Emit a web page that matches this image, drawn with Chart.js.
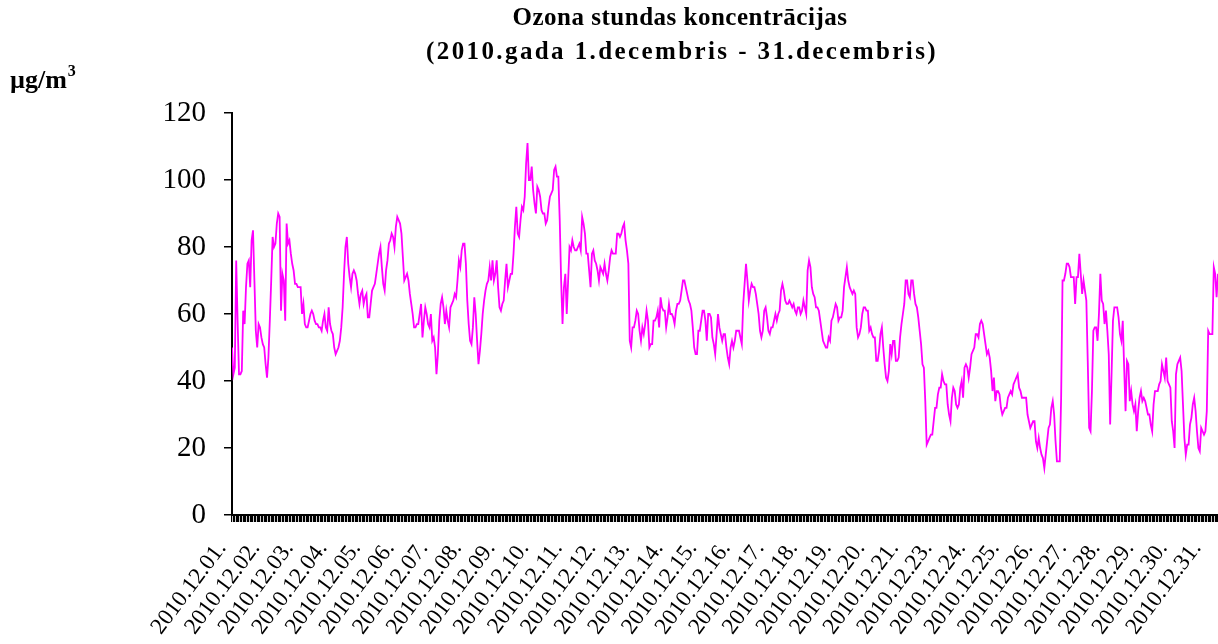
<!DOCTYPE html>
<html>
<head>
<meta charset="utf-8">
<script src="https://cdn.jsdelivr.net/npm/chart.js@4.4.1/dist/chart.umd.min.js"></script>
<style>
  html, body { margin: 0; padding: 0; background: #fff; overflow: hidden; }
  #wrap { width: 1218px; height: 644px; position: relative; }
</style>
</head>
<body>
<div id="wrap"><canvas id="ozone"></canvas></div>
<script>
// hourly O3 values, one array per day
var d01 = [50,42,44,76,58,42,42,43,61,57,68,75,76,68,82,85,70,55,50,57,56,53,51,50];
var d02 = [45,41,47,58,70,83,80,81,87,90,89,61,72,70,58,87,81,82,78,75,73,69,69,68];
var d03 = [68,68,60,63,57,56,56,58,60,61,60,58,57,57,56,56,55,58,60,56,55,62,57,55];
var d04 = [54,50,48,49,50,52,56,62,72,80,83,75,71,68,72,73,72,70,66,63,66,67,63,65];
var d05 = [66,59,59,63,67,68,69,72,75,78,80,74,69,67,73,76,81,82,84,83,80,86,89,88];
var d06 = [87,84,77,70,71,72,70,66,63,60,56,56,57,57,60,63,53,58,62,60,57,56,60,52];
var d07 = [53,50,42,48,58,63,65,62,57,61,58,56,62,63,64,66,65,70,76,74,79,81,81,75];
var d08 = [64,57,52,51,56,65,60,52,45,49,54,60,64,67,69,70,74,70,76,70,72,76,68,62];
var d09 = [61,63,64,70,75,68,70,72,72,78,86,92,84,83,88,92,91,95,105,111,100,100,104,97];
var d10 = [93,90,98,97,95,91,90,90,87,88,92,95,96,97,103,104,101,101,88,70,57,68,72,60];
var d11 = [70,80,79,82,80,79,79,80,81,79,89,87,84,78,78,73,68,78,79,76,75,73,70,74];
var d12 = [73,72,75,72,70,73,77,79,78,78,78,84,84,83,84,86,87,82,79,75,52,50,56,56];
var d13 = [58,61,60,55,52,56,54,57,61,58,50,51,51,58,58,59,61,56,65,62,61,61,56,59];
var d14 = [63,60,60,59,57,61,63,63,64,67,70,70,68,66,64,63,61,56,50,48,48,55,55,58];
var d15 = [61,61,58,52,60,60,59,53,51,48,54,60,56,54,52,54,54,50,47,45,50,52,50,52];
var d16 = [55,55,55,53,51,63,69,75,70,64,67,69,68,68,66,63,60,55,53,55,61,62,59,55];
var d17 = [54,56,56,58,60,58,60,61,67,69,67,64,63,63,64,63,62,63,61,60,62,62,60,61];
var d18 = [64,62,60,73,76,74,68,66,65,62,62,61,58,55,52,51,50,50,53,52,58,59,61,63];
var d19 = [62,58,59,59,61,68,71,74,70,68,67,66,67,66,56,53,54,56,60,62,62,61,61,55];
var d20 = [56,54,53,53,46,46,49,54,56,50,45,41,40,43,51,48,52,52,46,46,47,53,57,60];
var d21 = [63,70,70,66,65,70,70,66,63,62,59,55,51,45,44,34,21,22,23,24,24,28,32,32];
var d23 = [36,38,38,42,40,39,39,33,30,28,35,38,37,33,32,33,38,40,35,44,45,44,41,44];
var d24 = [48,49,50,54,54,53,57,58,57,54,51,48,49,47,43,37,41,34,37,37,36,32,30,31];
var d25 = [32,32,35,36,37,36,39,40,41,42,38,37,35,35,35,35,30,28,26,27,28,28,22,20];
var d26 = [23,20,18,17,14,18,22,26,27,32,34,30,22,16,16,16,35,70,70,72,75,75,74,71];
var d27 = [71,71,63,71,71,78,72,66,70,67,64,46,26,25,37,55,56,56,52,60,72,64,63,57];
var d28 = [61,55,48,27,42,58,62,62,62,59,54,52,58,44,31,46,45,34,37,33,31,33,25,31];
var d29 = [35,37,34,35,34,32,30,30,27,25,33,37,37,37,39,40,45,43,41,47,40,39,38,28];
var d30 = [25,20,42,45,46,47,43,33,23,18,21,21,27,29,33,35,31,25,20,19,26,25,24,25];
var d31 = [31,55,54,54,54,74,72,65,72]; // rest of the day is cut off in the picture

// day labels as printed (12.22 is not on the axis)
var dayLabels = ['2010.12.01.','2010.12.02.','2010.12.03.','2010.12.04.','2010.12.05.',
  '2010.12.06.','2010.12.07.','2010.12.08.','2010.12.09.','2010.12.10.',
  '2010.12.11.','2010.12.12.','2010.12.13.','2010.12.14.','2010.12.15.',
  '2010.12.16.','2010.12.17.','2010.12.18.','2010.12.19.','2010.12.20.',
  '2010.12.21.','2010.12.23.','2010.12.24.','2010.12.25.','2010.12.26.',
  '2010.12.27.','2010.12.28.','2010.12.29.','2010.12.30.','2010.12.31.'];

var yTicks = [0, 20, 40, 60, 80, 100, 120];
var titleLines = ['Ozona stundas koncentrācijas', '(2010.gada 1.decembris - 31.decembris)'];
var unitText = 'µg/m';

var ozone = [].concat(d01,d02,d03,d04,d05,d06,d07,d08,d09,d10,d11,d12,d13,d14,d15,
  d16,d17,d18,d19,d20,d21,d23,d24,d25,d26,d27,d28,d29,d30,d31);
var points = ozone.map(function(v, i){ return {x: i, y: v}; });

var serif = '"Liberation Serif", "Times New Roman", serif';

var headerPlugin = {
  id: 'header',
  afterDraw: function(chart){
    var ctx = chart.ctx;
    ctx.save();
    ctx.fillStyle = '#000';
    ctx.textAlign = 'center';
    ctx.textBaseline = 'middle';
    ctx.font = 'bold 25px ' + serif;
    ctx.letterSpacing = '0.5px';
    ctx.fillText(titleLines[0], 680, 19);
    ctx.letterSpacing = '2.4px';
    ctx.fillText(titleLines[1], 682, 53);
    ctx.letterSpacing = '0px';
    ctx.textAlign = 'left';
    ctx.textBaseline = 'alphabetic';
    ctx.font = 'bold 26px ' + serif;
    ctx.fillText(unitText, 10, 88);
    var w = ctx.measureText(unitText).width;
    ctx.font = 'bold 16px ' + serif;
    ctx.fillText('3', 10 + w + 1, 76);
    ctx.restore();
  }
};

new Chart(document.getElementById('ozone'), {
  type: 'line',
  data: {
    datasets: [{
      data: points,
      borderColor: '#ff00ff',
      borderWidth: 1.8,
      pointRadius: 0,
      tension: 0,
      fill: false
    }]
  },
  options: {
    responsive: true,
    maintainAspectRatio: false,
    animation: false,
    layout: { padding: { top: 113, left: 0, right: 0, bottom: 0 } },
    plugins: { legend: { display: false }, tooltip: { enabled: false } },
    scales: {
      x: {
        type: 'linear',
        min: 0,
        max: 704,
        afterFit: function(s){ s.height = 129; s.paddingLeft = 0; s.paddingRight = 0; },
        border: { display: true, color: '#000', width: 2 },
        grid: { display: true, drawOnChartArea: false, drawTicks: true, tickLength: 7, color: '#000', lineWidth: 1.2 },
        ticks: {
          stepSize: 1,
          autoSkip: false,
          minRotation: 53,
          maxRotation: 53,
          padding: 14,
          labelOffset: -10,
          color: '#000',
          font: { family: serif, size: 23 },
          callback: function(v){ return v % 24 === 0 ? (dayLabels[v / 24] || '') : ''; }
        }
      },
      y: {
        min: 0,
        max: 120,
        afterFit: function(s){ s.width = 232; },
        afterBuildTicks: function(s){ s.ticks = yTicks.map(function(v){ return {value: v}; }); },
        border: { display: true, color: '#000', width: 2 },
        grid: { display: true, drawOnChartArea: false, drawTicks: true, tickLength: 8, color: '#000', lineWidth: 1.5 },
        ticks: { padding: 18, color: '#000', font: { family: serif, size: 29 } }
      }
    }
  },
  plugins: [headerPlugin]
});
</script>
</body>
</html>
